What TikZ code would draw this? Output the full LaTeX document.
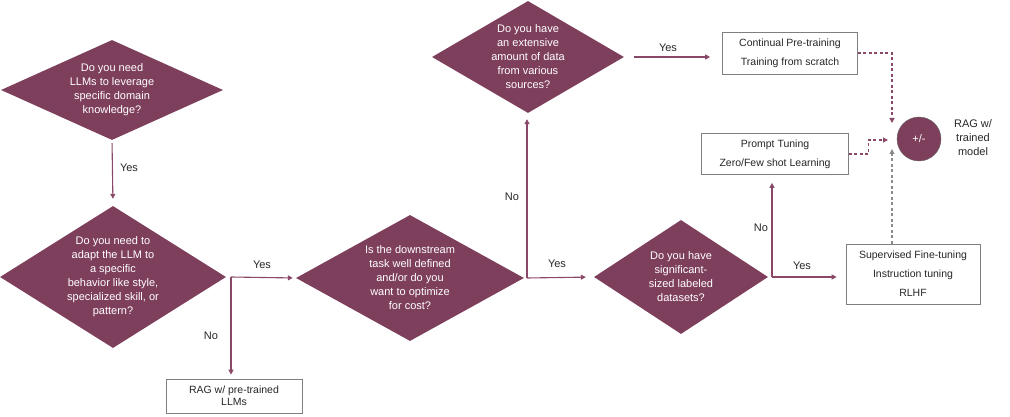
\documentclass[tikz,border=0pt]{standalone}
\usepackage{fontspec}
\setmainfont{Liberation Sans}
\usetikzlibrary{shapes.geometric,arrows.meta,calc}
\definecolor{plum}{HTML}{7E3F5D}
\definecolor{plumline}{HTML}{8A4868}
\definecolor{boxgray}{HTML}{7F7F7F}
\definecolor{dashgray}{HTML}{8C8C8C}
\begin{document}
\begin{tikzpicture}[x=1pt,y=-1pt,
  decision/.style={diamond, fill=plum, draw=none, inner sep=0pt},
  dlab/.style={text=white, align=center, font=\fontsize{11}{14}\selectfont, inner sep=0pt},
  outcome/.style={rectangle, draw=boxgray, line width=0.7pt, fill=white, align=center, inner sep=0pt, font=\fontsize{10.5}{19}\selectfont, text=black!85},
  arr/.style={draw=plumline, line width=1.1pt, -{Triangle[length=5pt,width=5pt]}},
  darr/.style={draw=plumline, line width=1.1pt, dash pattern=on 3pt off 2.5pt, -{Triangle[length=5pt,width=5pt]}},
  garr/.style={draw=dashgray, line width=1.1pt, dash pattern=on 3pt off 2.5pt, -{Triangle[length=5pt,width=5pt]}},
  lbl/.style={font=\fontsize{11}{13}\selectfont, text=black!85, inner sep=0pt}
]
\useasboundingbox (0,0) rectangle (1010,417);

% decisions
\node[decision, minimum width=222pt, minimum height=100pt,
  label={[dlab]center:{Do you need\\LLMs to leverage\\specific domain\\knowledge?}}] (d1) at (112,90) {};
\node[decision, minimum width=226pt, minimum height=142pt,
  label={[dlab]center:{Do you need to\\adapt the LLM to\\a specific\\behavior like style,\\specialized skill, or\\pattern?}}] (d2) at (113,277) {};
\node[decision, minimum width=228pt, minimum height=126pt,
  label={[dlab]center:{Is the downstream\\task well defined\\and/or do you\\want to optimize\\for cost?}}] (d3) at (410,278) {};
\node[decision, minimum width=192pt, minimum height=112pt,
  label={[dlab]center:{Do you have\\an extensive\\amount of data\\from various\\sources?}}] (d4) at (528,57) {};
\node[decision, minimum width=174pt, minimum height=114pt,
  label={[dlab]center:{Do you have\\significant-\\sized labeled\\datasets?}}] (d5) at (681,277) {};

% outcomes
\node[outcome, minimum width=136pt, minimum height=34pt, font=\fontsize{10.5}{12}\selectfont] (rag1) at (234,396) {RAG w/ pre-trained\\LLMs};
\node[outcome, minimum width=135pt, minimum height=42pt] (cont) at (790,53) {Continual Pre-training\\Training from scratch};
\node[outcome, minimum width=147pt, minimum height=41pt] (prompt) at (775,154) {Prompt Tuning\\Zero/Few shot Learning};
\node[outcome, minimum width=134pt, minimum height=60pt] (sft) at (913,274) {Supervised Fine-tuning\\Instruction tuning\\RLHF};

\node[circle, fill=plum, draw=black!60, line width=0.4pt, minimum size=44pt, inner sep=0pt, text=white, font=\fontsize{11}{13}\selectfont] (circ) at (919,139) {+/-};
\node[align=center, font=\fontsize{11}{14}\selectfont, text=black!85, inner sep=0pt] (ragt) at (973,138) {RAG w/\\trained\\model};

% junctions and targets
\coordinate (j1) at (231,277);
\coordinate (j2) at (527,278);
\coordinate (j3) at (772,277);
\coordinate (t1) at (892,123);
\coordinate (t2) at (888,140);
\coordinate (t3) at (892,149);

% connectors
\draw[arr, shorten <=3pt, shorten >=7pt] (d1.south) -- (d2.north);
\draw[arr, shorten >=3pt] (j1) -- (d3.west);
\draw[arr, shorten >=4pt] (j1) -- (j1 |- rag1.north);
\draw[arr, shorten >=8pt] (j2) -- (d5.west);
\draw[arr, shorten >=6pt] (j2) -- (j2 |- d4.south);
\draw[arr, shorten <=10pt, shorten >=12pt] (d4.east) -- (d4.east -| cont.west);
\draw[arr, shorten >=9pt] (j3) -- (sft.west |- j3);
\draw[arr, shorten >=8pt] (j3) -- (j3 |- prompt.south);
\draw[darr] (cont.east) -| (t1);
\draw[darr] (prompt.east) -- ++(20,0) |- (t2);
\draw[garr] (t3 |- sft.north) -- (t3);

% labels
\node[lbl] (y1) at (129,168) {Yes};
\node[lbl] (y2) at (262,265) {Yes};
\node[lbl] (n1) at (211,336) {No};
\node[lbl] (n2) at (512,197) {No};
\node[lbl] (y3) at (557,264) {Yes};
\node[lbl] (y4) at (668,48) {Yes};
\node[lbl] (n3) at (761,228) {No};
\node[lbl] (y5) at (802,266) {Yes};
\end{tikzpicture}
\end{document}
